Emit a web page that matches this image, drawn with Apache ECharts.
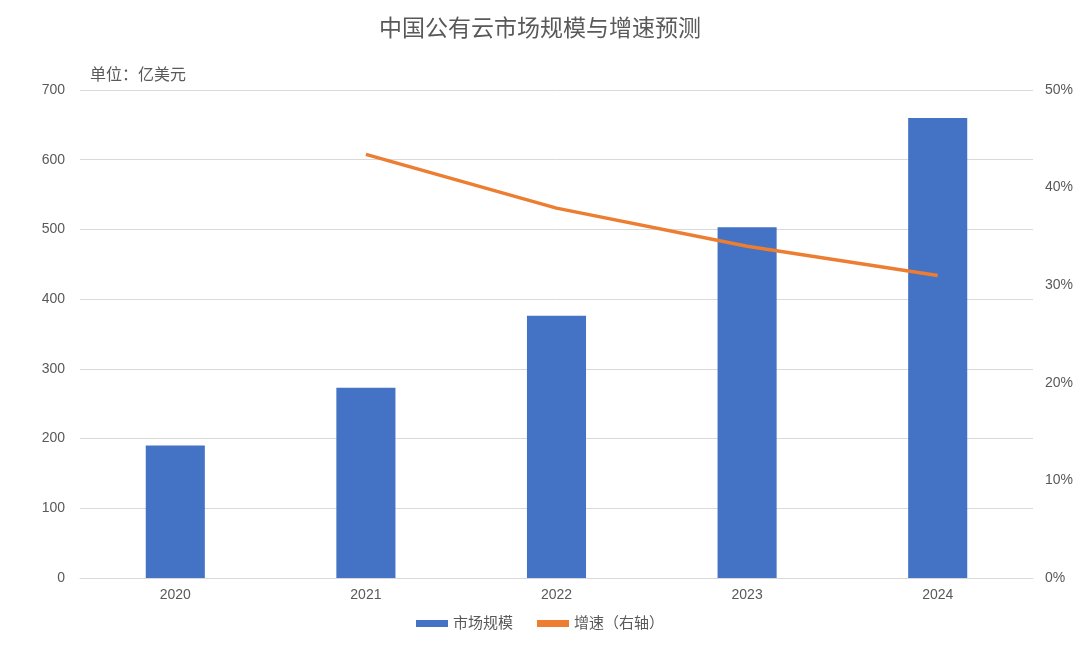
<!DOCTYPE html>
<html><head><meta charset="utf-8">
<script src="https://cdn.jsdelivr.net/npm/echarts@6/dist/echarts.min.js"></script>
<style>html,body{margin:0;padding:0;background:#fff}#c{width:1080px;height:648px}</style>
</head><body><div id="c"></div>
<script>
const categories = ['2020','2021','2022','2023','2024'];
const marketSize = [190, 273, 376, 503, 660];
const growthRate = [null, 43.4, 37.9, 34.0, 31.0];
const leftTicks = [0,100,200,300,400,500,600,700];
const rightTicks = [0,10,20,30,40,50];
const font = '"Liberation Sans", "Noto Sans CJK SC", sans-serif';
const chart = echarts.init(document.getElementById('c'));
chart.setOption({
  animation:false,
  textStyle:{fontFamily:font},
  title:{text:'中国公有云市场规模与增速预测',left:'center',top:13,
    textStyle:{fontSize:23,fontWeight:'normal',color:'#595959',fontFamily:font}},
  graphic:[{type:'text',left:90,top:68,style:{text:'单位：亿美元',fontSize:16,fill:'#595959',fontFamily:font}}],
  legend:{bottom:12,left:'center',itemWidth:32,itemHeight:7,itemGap:24,
    textStyle:{fontSize:15,color:'#595959',fontFamily:font},
    data:[{name:'市场规模',icon:'rect'},{name:'增速（右轴）',icon:'rect'}]},
  grid:{left:80,right:47,top:90,bottom:70},
  xAxis:{type:'category',data:categories,
    axisLine:{lineStyle:{color:'#d9d9d9'}},axisTick:{show:false},
    axisLabel:{color:'#595959',fontSize:14,margin:10}},
  yAxis:[
    {type:'value',min:leftTicks[0],max:leftTicks[leftTicks.length-1],interval:100,
     axisLabel:{color:'#595959',fontSize:14,margin:15},
     splitLine:{lineStyle:{color:'#d9d9d9'}},axisLine:{show:false},axisTick:{show:false}},
    {type:'value',min:rightTicks[0],max:rightTicks[rightTicks.length-1],interval:10,
     axisLabel:{color:'#595959',fontSize:14,margin:12,formatter:'{value}%'},
     splitLine:{show:false},axisLine:{show:false},axisTick:{show:false}}
  ],
  series:[
    {name:'市场规模',type:'bar',data:marketSize,barWidth:'31%',itemStyle:{color:'#4472c4'}},
    {name:'增速（右轴）',type:'line',yAxisIndex:1,data:growthRate,symbol:'none',
     lineStyle:{color:'#ed7d31',width:3.5},itemStyle:{color:'#ed7d31'}}
  ]
});
</script></body></html>
